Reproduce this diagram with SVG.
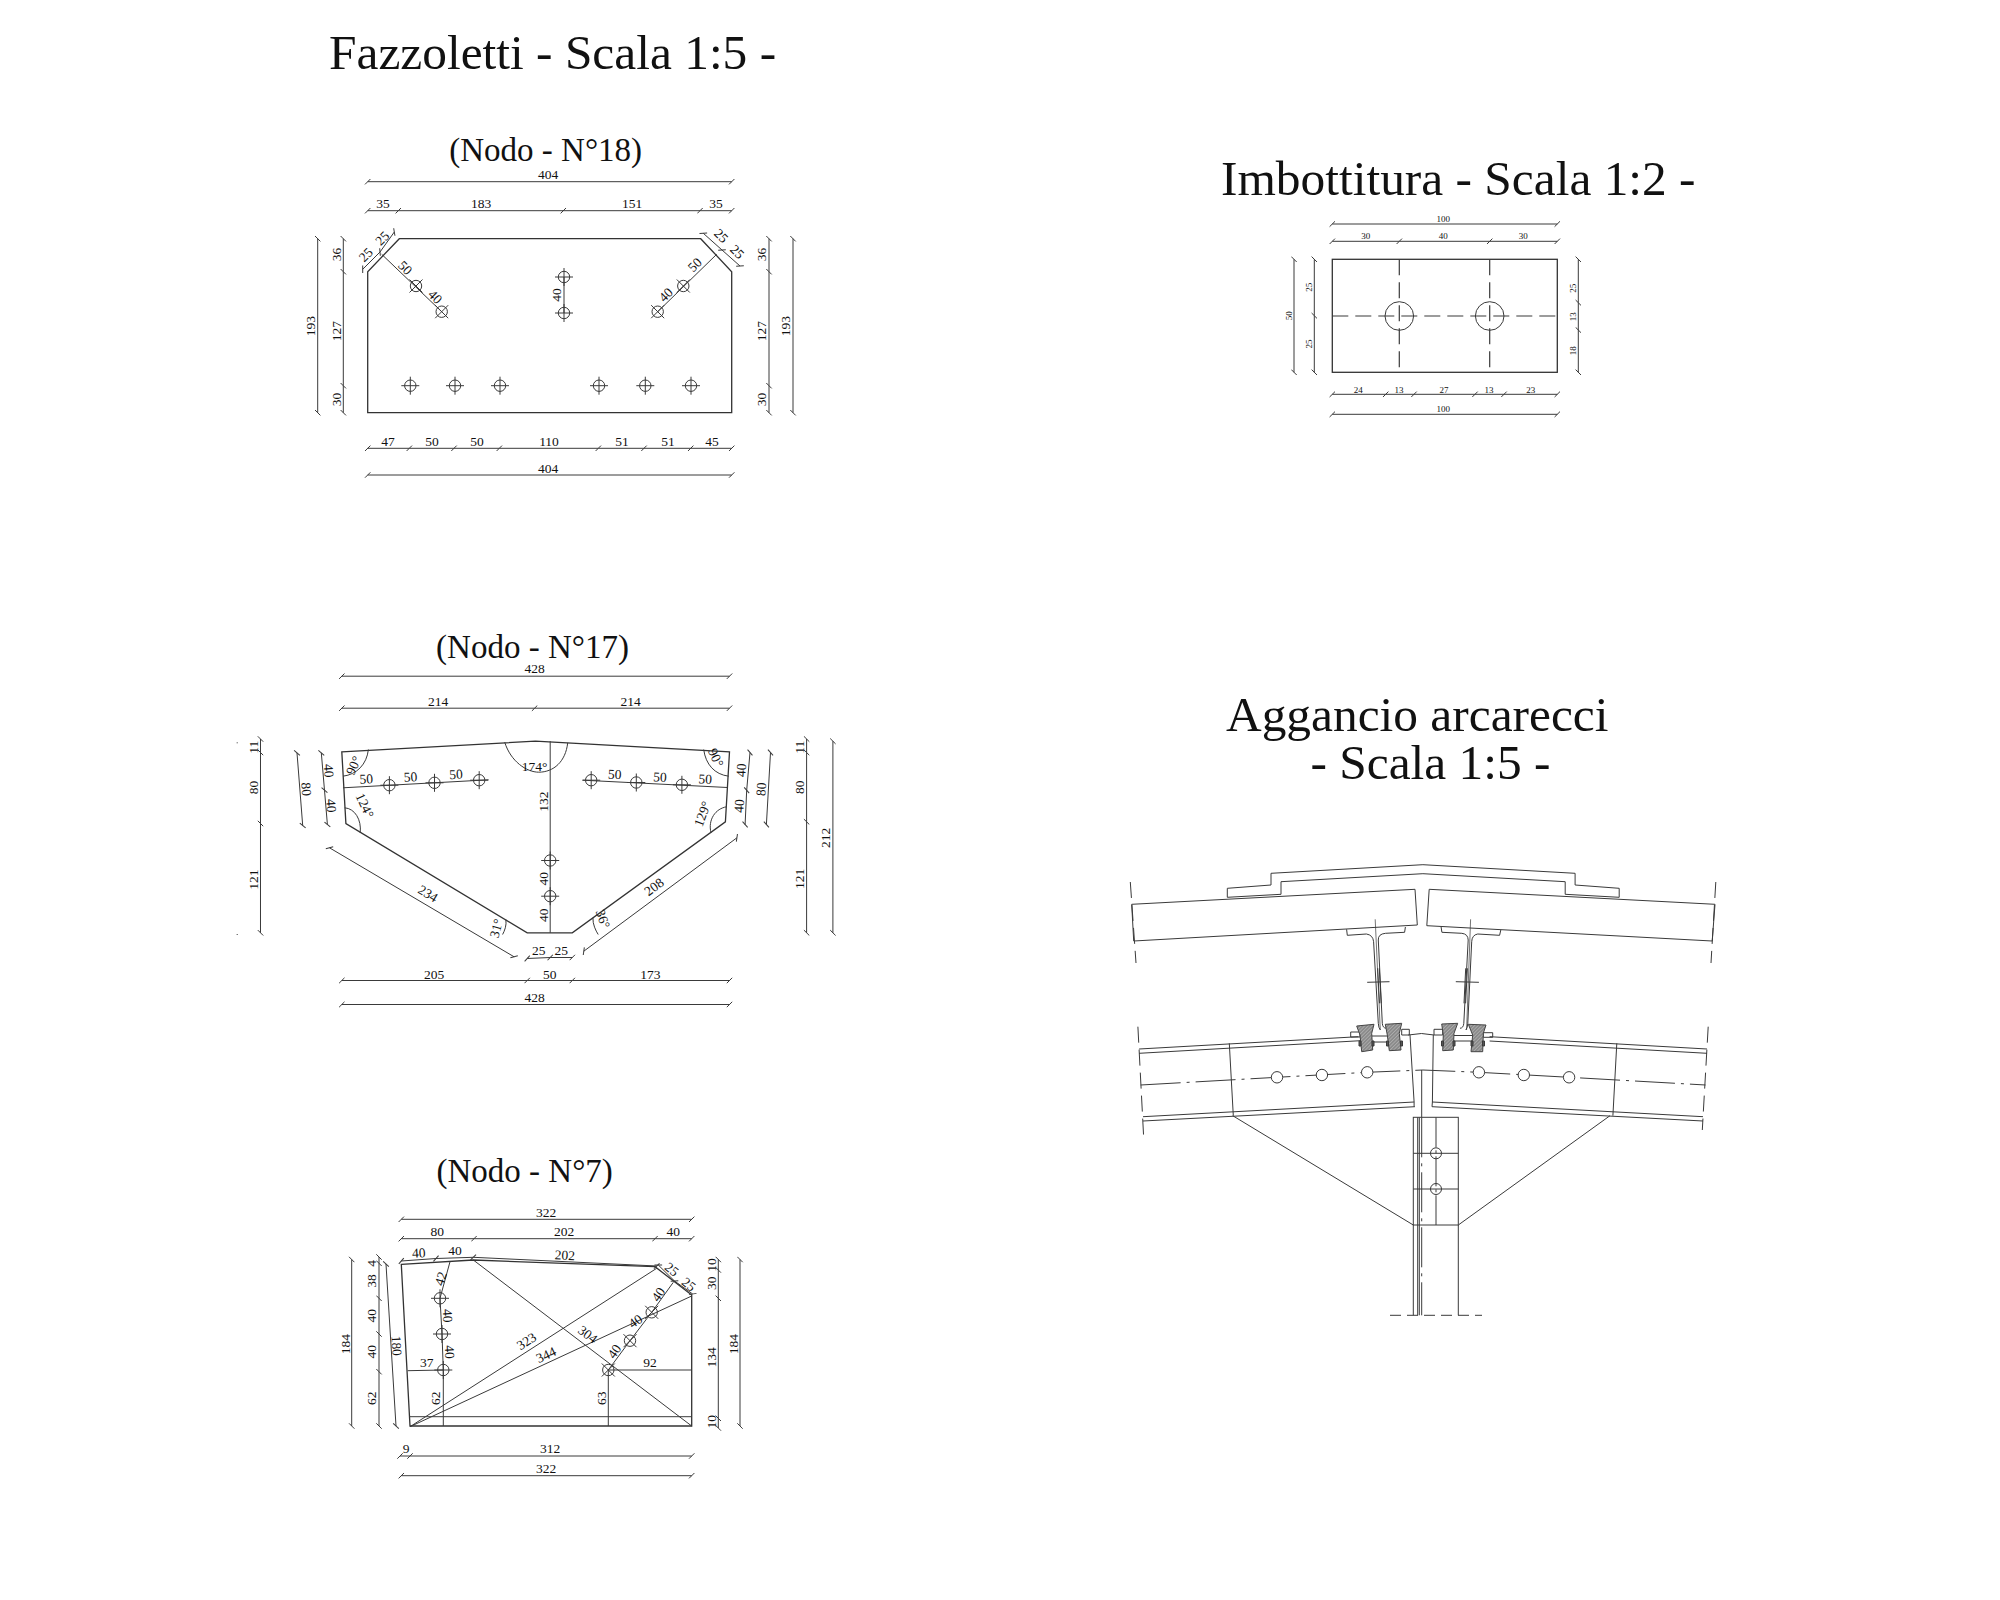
<svg xmlns="http://www.w3.org/2000/svg" width="2000" height="1600" viewBox="0 0 2000 1600">
<style>
text{font-family:"Liberation Serif","Times New Roman",serif;fill:#111;text-anchor:middle}
.h{font-size:49.4px;text-anchor:start;fill:#111}
.s{font-size:33px;fill:#111}
.n{font-size:13.5px}
.m{font-size:9px;fill:#333}
.l,.d,.c,.da,.dd{fill:none;stroke:#3a3a3a;stroke-width:1}
.p{fill:none;stroke:#333;stroke-width:1.3}
.d{marker-start:url(#k);marker-mid:url(#k);marker-end:url(#k)}
.da{stroke-dasharray:16 7}
.dd{stroke-dasharray:40 6 3 6}
.cl{fill:url(#hatch);stroke:#444;stroke-width:1}
</style>
<defs>
<marker id="k" markerUnits="userSpaceOnUse" markerWidth="7" markerHeight="7" viewBox="-3.5 -3.5 7 7" orient="auto" refX="0" refY="0"><path d="M-2.7,2.7L2.7,-2.7" fill="none" stroke="#3a3a3a" stroke-width="1"/></marker>
<pattern id="hatch" patternUnits="userSpaceOnUse" width="2.5" height="2.5" patternTransform="rotate(-45)"><rect width="2.5" height="2.5" fill="#8a8a8a"/><path d="M0,0H2.5" stroke="#ddd" stroke-width="0.7"/></pattern>
<g id="b"><circle r="5.7" class="l"/><path d="M-9,0H9M0,-9V9" class="l"/></g>
<g id="x"><circle r="5.7" class="l"/><path d="M-6.5,-6.5L6.5,6.5M-6.5,6.5L6.5,-6.5" class="l"/></g>
<g id="o"><circle r="5.7" class="l" style="fill:#fff"/></g>
</defs>

<text class="h" x="329" y="69">Fazzoletti - Scala 1:5 -</text>
<text class="h" x="1221" y="195">Imbottitura - Scala 1:2 -</text>
<text class="h" x="1226" y="730.5">Aggancio arcarecci</text>
<text class="h" x="1310.5" y="778.5">- Scala 1:5 -</text>

<g id="nodo18">
<text class="s" x="545.7" y="161">(Nodo - N°18)</text>
<path class="p" d="M399.3,238.7H700.7L731.7,271.7V412.7H367.7V271.7Z"/>
<g class="n">
<path class="d" d="M367.7,181.7H731.7"/><text x="548" y="179">404</text>
<path class="d" d="M367.7,210.7H398.3H563.3H700H731.7"/>
<text x="383" y="208">35</text><text x="481" y="208">183</text><text x="632" y="208">151</text><text x="716" y="208">35</text>
<path class="d" d="M367.7,448.3H409.3H454H499.3H598.3H644H690.7H731.7"/>
<text x="388" y="446">47</text><text x="432" y="446">50</text><text x="477" y="446">50</text><text x="549" y="446">110</text><text x="622" y="446">51</text><text x="668" y="446">51</text><text x="712" y="446">45</text>
<path class="d" d="M367.7,475H731.7"/><text x="548" y="472.5">404</text>
<path class="d" d="M317.7,238.7V412.7"/><text transform="translate(314.5,326) rotate(-90)">193</text>
<path class="d" d="M343.3,238.7V271.7V385.7V412.7"/>
<text transform="translate(341,254.5) rotate(-90)">36</text><text transform="translate(341,331) rotate(-90)">127</text><text transform="translate(341,399.5) rotate(-90)">30</text>
<path class="d" d="M769,238.7V271.7V385.7V412.7"/>
<text transform="translate(766,254.5) rotate(-90)">36</text><text transform="translate(766,331) rotate(-90)">127</text><text transform="translate(766,399.5) rotate(-90)">30</text>
<path class="d" d="M793,238.7V412.7"/><text transform="translate(790,326) rotate(-90)">193</text>
<path class="d" d="M362.7,269.3L380,252L394.3,232"/>
<text transform="translate(369,258) rotate(-45)">25</text><text transform="translate(385.5,241.5) rotate(-45)">25</text>
<path class="l" d="M381.7,254.3L441.7,311.7"/>
<text transform="translate(402,271) rotate(45)">50</text><text transform="translate(432,300) rotate(45)">40</text>
<path class="d" d="M703.3,233.3L722,250L740,266"/>
<text transform="translate(718,239) rotate(45)">25</text><text transform="translate(734,255) rotate(45)">25</text>
<path class="l" d="M716.7,254.3L657.7,311.7"/>
<text transform="translate(698,268) rotate(-45)">50</text><text transform="translate(669,298) rotate(-45)">40</text>
<path class="l" d="M564,277V313"/>
<text transform="translate(561,295) rotate(-90)">40</text>
</g>
<use href="#x" x="416" y="286"/><use href="#x" x="441.7" y="311.7"/>
<use href="#x" x="683.3" y="286"/><use href="#x" x="657.7" y="311.7"/>
<use href="#b" x="564" y="277"/><use href="#b" x="564" y="313"/>
<use href="#b" x="410.3" y="385.7"/><use href="#b" x="455" y="385.7"/><use href="#b" x="500" y="385.7"/>
<use href="#b" x="599" y="385.7"/><use href="#b" x="645.3" y="385.7"/><use href="#b" x="691" y="385.7"/>
</g>

<g id="nodo17">
<text class="s" x="532.5" y="657.5">(Nodo - N°17)</text>
<g transform="translate(-1.3,-0.5)">
<path class="p" d="M343.1,752.3L536.7,741.7L730.8,752.3L726.7,822.3L573.6,933.3H528.5L347.2,824Z"/>
<path class="l" d="M344.3,788.3L489.9,780.3M584.3,780.7L728.7,788M551.5,741.7V933.3"/>
<path class="l" d="M506,742.7C512,762 528,772.7 540,772.7C555,772.7 567,762 569,743.3"/>
<path class="l" d="M369.7,750C368,765 358,775 344.3,776.7M705,750C707,765 716,775 730,776.7"/>
<path class="l" d="M346,808.3C356,809 363,820 361.5,833.3M727.9,807.3C717,809 709,820 712.3,833.3"/>
<path class="l" d="M507.2,920C508,926 506,931 503.9,935M594.2,918.3C594,925 597,931 599.5,935"/>
<g class="n">
<path class="d" d="M343.1,676.7H730.8"/><text x="536" y="673.5">428</text>
<path class="d" d="M343.1,708.7H535.9H730.8"/><text x="439.5" y="706">214</text><text x="632" y="706">214</text>
<path class="d" d="M261.8,739.5V753V824V933.3"/>
<text transform="translate(259.5,747.7) rotate(-90)">11</text><text transform="translate(259.5,788) rotate(-90)">80</text><text transform="translate(259.5,880) rotate(-90)">121</text>
<path class="d" d="M298.3,753.3L304,826"/><text transform="translate(303,790) rotate(86)">80</text>
<path class="d" d="M322.6,753.3L325.8,790.7L328.7,825"/>
<text transform="translate(325.5,771.5) rotate(87)">40</text><text transform="translate(328,806.5) rotate(87)">40</text>
<path class="d" d="M751.3,753L748,790.7L746.4,825"/>
<text transform="translate(747,771) rotate(-87)">40</text><text transform="translate(745,806.7) rotate(-87)">40</text>
<path class="d" d="M771.8,753L767.7,825"/><text transform="translate(767,790) rotate(-87)">80</text>
<path class="d" d="M807.9,739.5V753V822.3V933.3"/>
<text transform="translate(805,747.7) rotate(-90)">11</text><text transform="translate(805,787.7) rotate(-90)">80</text><text transform="translate(805,879.3) rotate(-90)">121</text>
<path class="d" d="M834.2,741.7V933.3"/><text transform="translate(831.5,838.3) rotate(-90)">212</text>
<path class="l" d="M238,743.3h1M238,935h1"/>
<path class="d" d="M330.8,848.3L515.4,957.3"/><text transform="translate(427,898) rotate(31)">234</text>
<path class="d" d="M585.1,951.7L738.2,838.3"/><text transform="translate(658,891) rotate(-36.5)">208</text>
<path class="d" d="M528.5,959L551.5,958H573.6"/><text x="540" y="955">25</text><text x="562.6" y="955">25</text>
<path class="d" d="M343.1,981H528.5H573.6H730.8"/><text x="435.4" y="979">205</text><text x="551" y="979">50</text><text x="651.6" y="979">173</text>
<path class="d" d="M343.1,1005H730.8"/><text x="536" y="1002.5">428</text>
<text transform="translate(367.7,784) rotate(-3)">50</text><text transform="translate(412,782) rotate(-3)">50</text><text transform="translate(457.5,779.3) rotate(-3)">50</text>
<text transform="translate(615.9,779.3) rotate(3)">50</text><text transform="translate(661,782) rotate(3)">50</text><text transform="translate(706.2,784) rotate(3)">50</text>
<text transform="translate(549,802) rotate(-90)">132</text><text transform="translate(549,879.3) rotate(-90)">40</text><text transform="translate(549,915.7) rotate(-90)">40</text>
<text x="536" y="771">174°</text>
<text transform="translate(359,768) rotate(-65)">90°</text><text transform="translate(713,760) rotate(65)">90°</text>
<text transform="translate(362,808) rotate(65)">124°</text><text transform="translate(708,816) rotate(-70)">129°</text>
<text transform="translate(502,930) rotate(-75)">31°</text><text transform="translate(600,921) rotate(70)">36°</text>
</g>
<use href="#b" x="390.7" y="785.7"/><use href="#b" x="435.8" y="783.3"/><use href="#b" x="480.5" y="780.7"/>
<use href="#b" x="592.5" y="780.7"/><use href="#b" x="637.6" y="783"/><use href="#b" x="683.2" y="785.3"/>
<use href="#b" x="551.5" y="861"/><use href="#b" x="551.5" y="896.7"/>
</g>
</g>

<g id="nodo7">
<text class="s" x="524.7" y="1182">(Nodo - N°7)</text>
<path class="p" d="M401.3,1264.3L473.3,1260L655,1266.7L691.7,1295V1426H410Z"/>
<path class="l" d="M409.3,1416.7H691.7"/>
<path class="l" d="M450,1261.7L440,1298.3L442,1334L443.3,1370V1426M407.7,1370.7L443.3,1370"/>
<path class="l" d="M410,1426.7L656.7,1268.3M410,1426.7L691.7,1296M473.3,1260L691.7,1426"/>
<path class="l" d="M608.3,1370L630,1340.7L651.7,1312.3L673.3,1282.3M608.3,1370H691.7M608.3,1370V1426"/>
<g class="n">
<path class="d" d="M401.3,1219.3H691.7"/><text x="546" y="1216.5">322</text>
<path class="d" d="M401.3,1238.7H474H655H691.7"/><text x="437.3" y="1236">80</text><text x="564" y="1236">202</text><text x="673.3" y="1236">40</text>
<path class="d" d="M401.3,1261L436,1258.5L473.3,1257.3L656.7,1266"/>
<text transform="translate(419,1257.5) rotate(-3)">40</text><text transform="translate(455,1255)">40</text><text transform="translate(564.7,1259.7) rotate(3)">202</text>
<path class="d" d="M658.3,1265L674.5,1281L692.7,1294"/>
<text transform="translate(669,1273) rotate(38)">25</text><text transform="translate(686,1288) rotate(38)">25</text>
<path class="d" d="M351.7,1259.5V1426"/><text transform="translate(349.5,1344) rotate(-90)">184</text>
<path class="d" d="M379,1257V1263.3V1298.3V1334V1371.7V1426"/>
<text transform="translate(376,1263.3) rotate(-90)">4</text><text transform="translate(376,1281) rotate(-90)">38</text><text transform="translate(376,1315.7) rotate(-90)">40</text><text transform="translate(376,1351.7) rotate(-90)">40</text><text transform="translate(376,1398.3) rotate(-90)">62</text>
<path class="d" d="M386,1264L396,1426"/><text transform="translate(392,1346) rotate(87)">180</text>
<path class="d" d="M718.3,1259.5V1270V1298.3V1418.3V1428"/>
<text transform="translate(716,1265) rotate(-90)">10</text><text transform="translate(716,1283.3) rotate(-90)">30</text><text transform="translate(716,1357.3) rotate(-90)">134</text><text transform="translate(716,1421.7) rotate(-90)">10</text>
<path class="d" d="M740,1259.5V1426"/><text transform="translate(737.5,1344) rotate(-90)">184</text>
<path class="d" d="M400,1456H410H691.7"/><text x="406" y="1453.3">9</text><text x="550" y="1453.3">312</text>
<path class="d" d="M401.3,1475.7H691.7"/><text x="546" y="1473.3">322</text>
<text transform="translate(445,1280) rotate(-72)">42</text>
<text transform="translate(443,1316) rotate(87)">40</text><text transform="translate(445,1352.3) rotate(87)">40</text>
<text x="426.7" y="1367.3">37</text><text transform="translate(440,1398.3) rotate(-90)">62</text>
<text transform="translate(529,1345) rotate(-33)">323</text><text transform="translate(548,1359) rotate(-25)">344</text>
<text transform="translate(585,1338) rotate(37)">304</text>
<text transform="translate(618,1354) rotate(-55)">40</text><text transform="translate(638,1325) rotate(-35)">40</text><text transform="translate(662,1297) rotate(-55)">40</text>
<text x="650" y="1366.7">92</text><text transform="translate(606,1398.3) rotate(-90)">63</text>
</g>
<use href="#b" x="440" y="1298.3"/><use href="#b" x="442" y="1334"/><use href="#b" x="443.3" y="1370"/>
<use href="#x" x="608.3" y="1370"/><use href="#x" x="630" y="1340.7"/><use href="#x" x="651.7" y="1312.3"/>
</g>

<g id="imbottitura">
<rect class="p" x="1332.3" y="259.3" width="225" height="113"/>
<path class="da" style="stroke-width:1.2" d="M1332.3,316H1557.3M1399.3,259.3V372.3M1489.7,259.3V372.3"/>
<circle class="l" cx="1399.3" cy="316" r="14.3"/><circle class="l" cx="1489.7" cy="316" r="14.3"/>
<g class="m">
<path class="d" d="M1332.3,224H1557.3"/><text x="1443.3" y="221.5">100</text>
<path class="d" d="M1332.3,241.3H1399.3H1489.7H1557.3"/><text x="1365.7" y="238.7">30</text><text x="1443.3" y="238.7">40</text><text x="1523.3" y="238.7">30</text>
<path class="d" d="M1294,259.3V372.3"/><text transform="translate(1292,315.7) rotate(-90)">50</text>
<path class="d" d="M1314.3,259.3V315.7V372.3"/><text transform="translate(1312,287.3) rotate(-90)">25</text><text transform="translate(1312,344) rotate(-90)">25</text>
<path class="d" d="M1578.3,259.3V302.7V330V372.3"/><text transform="translate(1576,288.3) rotate(-90)">25</text><text transform="translate(1576,316.7) rotate(-90)">13</text><text transform="translate(1576,350.7) rotate(-90)">18</text>
<path class="d" d="M1332.3,394.3H1385.7H1414H1475H1504H1557.3"/>
<text x="1358.3" y="392.5">24</text><text x="1399" y="392.5">13</text><text x="1444" y="392.5">27</text><text x="1489" y="392.5">13</text><text x="1530.7" y="392.5">23</text>
<path class="d" d="M1332.3,414.3H1557.3"/><text x="1443.3" y="412">100</text>
</g>
</g>

<g id="aggancio">
<path class="l" d="M1131.7,904.3L1415,889.3L1417.3,925L1133.7,941ZM1429.2,889.3L1715,904.3L1712.2,941L1426.8,925.7Z"/>
<path class="l" d="M1227.3,897.3V888.3L1271,885V873.3L1422.9,864.7L1575.1,873.3V885L1619.2,888.3V897.3L1565.2,894.3V881.7L1422.9,873.7L1281,881.7V894.3Z"/>
<path class="da" d="M1130.3,882L1136,963M1715.8,882L1711,963"/>
<path class="da" d="M1137.9,1026.7L1143.8,1140M1708.2,1026.7L1702.3,1130"/>
<path class="l" d="M1346.6,929.3L1347.3,935.3L1366.4,934Q1373,935 1373.6,941.7L1378.3,1023.3Q1378.6,1028 1380.3,1030M1405.4,927L1404.6,932.3L1385.5,933.3Q1378,934 1378.3,940L1382.3,1023.3Q1382.6,1028 1386.3,1028.3"/>
<path class="l" d="M1500.8,930L1499.6,935.3L1477.7,934Q1472,935 1471.7,941.7L1467.8,1023.3Q1467.5,1028 1465.8,1030M1441.1,927L1441.9,932.3L1461.8,933.3Q1468,934 1468.2,940L1463.8,1023.3Q1463.5,1028 1460,1028.3"/>
<path class="l" d="M1375.2,919.3L1380.3,1030M1470.6,919.3L1466.6,1030" style="stroke-width:.7"/>
<path class="l" d="M1367.2,982.3L1389.5,981.7M1455.8,981.7L1478.9,982.3M1377.6,968.3L1379.5,1003.3M1379.3,968.3L1381.2,1003.3M1467.4,968.3L1465.6,1003.3M1465.7,968.3L1464,1003.3"/>
<path class="l" d="M1139.1,1049L1358.5,1036.7M1139.1,1053.3L1360.5,1040.7M1489.6,1036.7L1707,1049M1489.6,1041L1707,1053.3"/>
<path class="l" d="M1408.3,1035Q1421.7,1032 1434,1035"/>
<path class="l" d="M1229.3,1043.3L1233.3,1115.7M1616.8,1043.3L1612.9,1115.7M1410,1035L1414.1,1102V1106.7M1433.3,1035L1432.4,1102L1432,1106.7"/>
<path class="l" d="M1143,1116.7L1414.1,1102M1143,1121L1414.9,1106.7M1432.4,1102L1703,1116.7M1432,1106.7L1703,1121"/>
<path class="dd" d="M1140.7,1085L1277,1077.3L1367.2,1072.3L1422.9,1070L1478.9,1072.3L1569.1,1077.3L1705.5,1085"/>
<path class="l" d="M1350.7,1032h9.3v5h-9.3zM1401.7,1029.3h7.6v5.7h-7.6zM1434,1029.3h8.7v5.7h-8.7zM1483.3,1032.7h9.4v4.6h-9.4z"/>
<path class="l" d="M1371.7,1036H1387.3M1371.7,1042H1387.3M1454,1035.5H1472.7M1454,1041H1472.7"/>
<path class="cl" d="M1356.7,1026L1374,1024.3L1371.7,1033.3L1372.7,1050L1361.7,1051.7L1360,1035Z"/>
<path class="cl" d="M1385.3,1024.3L1401.7,1023.3L1399.3,1033.3L1401,1050L1389.3,1050.7L1387.3,1035Z"/>
<path class="cl" d="M1441.7,1024L1457.7,1023.3L1454,1033.3L1453.3,1050L1442.7,1050.7L1443.3,1035Z"/>
<path class="cl" d="M1468.3,1024.3L1486,1025L1483.3,1033.3L1482.7,1051.7L1471,1051.7L1472.7,1035Z"/>
<path class="l" style="fill:#555" d="M1359,1041h2v5h-2zM1372,1041h2v5h-2zM1386.5,1041h2v5h-2zM1400.5,1041h2v5h-2zM1441.5,1041h2v5h-2zM1453,1041h2v5h-2zM1471,1041h2v5h-2zM1482.5,1041h2v5h-2z"/>
<use href="#o" x="1277" y="1077.3"/><use href="#o" x="1321.9" y="1075"/><use href="#o" x="1367.2" y="1072.3"/>
<use href="#o" x="1478.9" y="1072.3"/><use href="#o" x="1523.8" y="1075"/><use href="#o" x="1569.1" y="1077.3"/>
<path class="l" d="M1421.7,1070V1117.3"/>
<rect class="l" x="1413.3" y="1117.3" width="45" height="107.7"/>
<path class="l" d="M1413.3,1225V1315.3M1417.7,1117.3V1315.3M1419.3,1117.3V1315.3M1458.3,1225V1315.3"/>
<path class="dd" d="M1421.7,1117.3V1315.3"/>
<path class="dd" style="stroke-dasharray:30 3 3 3" d="M1436,1117.3V1225"/>
<path class="l" d="M1413.3,1153.3H1458.3M1413.3,1189H1458.3"/>
<circle class="l" cx="1436" cy="1153.3" r="5.5"/><circle class="l" cx="1436" cy="1189" r="5.5"/>
<path class="l" d="M1232.7,1115.7L1413.3,1225M1610,1115.7L1458.3,1225"/>
<path class="l" style="stroke-dasharray:11 6" d="M1390,1315.3H1482"/>
</g>
</svg>
